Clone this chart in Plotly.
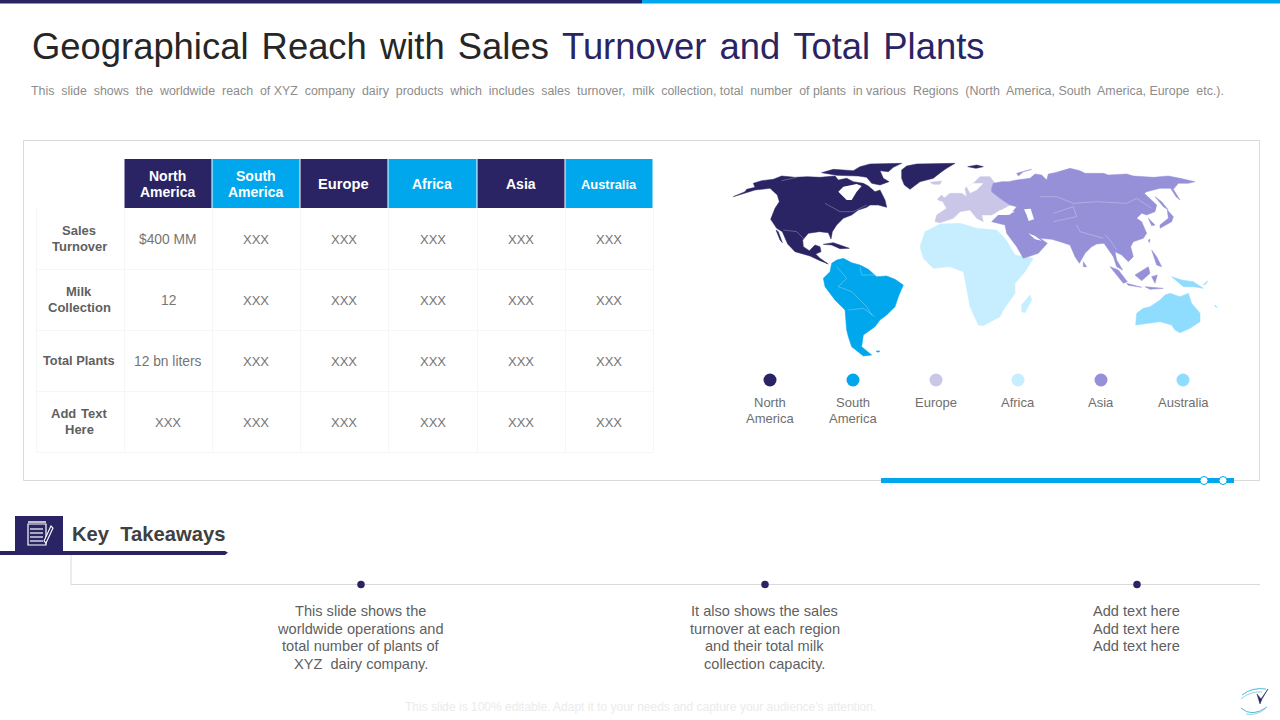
import plotly.graph_objects as go

NAVY = "#2A2464"
BLUE = "#00A7EC"
GREY = "#5F5F5F"
FONT = "Liberation Sans, Arial, sans-serif"
H = "\u200a"

# ---- table data
regions = ["North\nAmerica", "South\nAmerica", "Europe", "Africa", "Asia", "Australia"]
header_colors = [NAVY, BLUE, NAVY, BLUE, NAVY, BLUE]
header_sizes = [14, 14, 14.7, 14, 14, 12.9]
metrics = ["Sales\nTurnover", "Milk\nCollection", "Total Plants", f"Add {H}Text\nHere"]
col_edges = [36, 124, 212, 300, 388, 477, 565, 653]
row_edges = [208, 269, 330, 391, 452]
sales_row = ["$400 MM", "XXX", "XXX", "XXX", "XXX", "XXX"]
milk_row = ["12", "XXX", "XXX", "XXX", "XXX", "XXX"]
plants_row = ["12 bn liters", "XXX", "XXX", "XXX", "XXX", "XXX"]
text_row = ["XXX", "XXX", "XXX", "XXX", "XXX", "XXX"]

# ---- legend
legend_names = ["North\nAmerica", "South\nAmerica", "Europe", "Africa", "Asia", "Australia"]
legend_x = [770, 853, 936, 1018, 1101, 1183]
region_colors = [NAVY, BLUE, "#C9C6E8", "#C6EEFF", "#9590D8", "#8EDDFF"]

# ---- takeaways
takeaway_x = [361, 765, 1137]
takeaways = [
    "This slide shows the\nworldwide operations and\ntotal number of plants of\nXYZ  dairy company.",
    "It also shows the sales\nturnover at each region\nand their total milk\ncollection capacity.",
    "Add text here\nAdd text here\nAdd text here",
]

# ---- map outlines, in map units (3 units = 1 px, origin at map top left)
north_america = [[(40,140),(75,125),(80,118),(105,112),(100,100),(125,92),(160,88),(185,78),(225,82),(262,80),(300,82),(345,78),(355,90),(380,85),(400,95),(430,100),(445,108),(465,125),(480,120),(495,150),(500,172),(475,165),(450,165),(440,172),(415,180),(395,195),(370,205),(350,225),(337,245),(333,267),(325,248),(298,245),(265,250),(248,270),(250,290),(268,302),(285,285),(300,290),(303,305),(287,312),(300,325),(325,342),(300,332),(270,318),(225,305),(203,282),(187,245),(170,235),(160,220),(152,208),(165,175),(178,155),(172,135),(150,115),(105,120),(70,130)],
                 [(305,68),(340,58),(400,62),(420,50),(450,42),(545,40),(520,52),(505,65),(480,62),(490,85),(507,95),(480,105),(455,100),(440,82),(415,78),(350,76)],
                 [(545,60),(560,48),(590,42),(705,40),(680,55),(665,65),(640,85),(600,95),(570,118),(553,105),(545,85)],
                 [(310,283),(340,278),(388,295),(360,296),(335,285)],
                 [(743,50),(770,45),(790,50),(768,55)],
                 [(168,240),(175,245),(187,278),(180,270)]]
south_america = [[(335,340),(350,330),(370,325),(395,338),(420,345),(445,358),(470,380),(500,378),(525,388),(550,405),(535,440),(525,470),(500,495),(480,510),(465,530),(445,545),(430,555),(425,590),(455,615),(430,618),(395,590),(385,560),(380,540),(375,480),(345,450),(315,410),(310,385),(330,365)],
                 [(468,603),(480,603),(475,607)]]
europe = [[(645,215),(650,195),(680,175),(665,150),(690,130),(725,130),(740,140),(735,115),(760,100),(780,80),(810,80),(825,100),(815,125),(845,145),(870,165),(840,180),(815,195),(785,195),(790,215),(770,205),(750,180),(720,185),(700,205),(660,218)],
          [(652,148),(665,135),(678,150),(660,153)],
          [(630,97),(665,93),(660,103),(640,103)]]
africa = [[(600,290),(615,245),(660,222),(720,220),(770,235),(830,240),(855,265),(885,315),(940,325),(915,365),(885,400),(885,430),(850,480),(840,500),(790,527),(775,525),(750,470),(745,440),(735,390),(730,365),(690,350),(640,355),(610,325)],
          [(930,435),(935,450),(915,488),(905,485),(905,465)]]
asia = [[(815,115),(820,100),(845,95),(865,95),(890,90),(930,85),(945,72),(965,75),(980,90),(985,72),(1005,68),(1050,55),(1080,62),(1095,70),(1150,70),(1165,75),(1220,72),(1240,78),(1300,82),(1345,78),(1380,85),(1425,95),(1405,100),(1375,100),(1360,118),(1380,150),(1368,140),(1352,115),(1320,115),(1280,125),(1273,130),(1290,145),(1310,165),(1305,185),(1280,195),(1265,190),(1250,205),(1265,215),(1275,235),(1280,250),(1270,265),(1240,275),(1232,290),(1240,320),(1225,335),(1205,315),(1185,305),(1190,330),(1208,360),(1190,350),(1180,320),(1165,300),(1152,280),(1130,282),(1115,290),(1095,310),(1078,340),(1065,320),(1050,285),(1020,275),(995,268),(960,265),(982,280),(955,310),(910,325),(890,290),(860,250),(855,225),(815,215),(835,195),(870,195),(890,170),(870,165),(840,145),(815,125)],
        [(1305,140),(1325,155),(1345,180),(1330,170)],
        [(1320,235),(1355,215),(1360,200),(1342,180),(1345,205),(1320,225)],
        [(1285,205),(1305,225),(1295,227)],
        [(890,70),(935,58),(910,65),(895,78)],
        [(1090,335),(1100,350),(1090,350)],
        [(1170,350),(1195,360),(1222,395),(1210,400)],
        [(1220,400),(1265,412),(1225,406)],
        [(1245,375),(1285,350),(1290,370),(1265,392)],
        [(1295,380),(1312,375),(1305,400)],
        [(1295,300),(1310,320),(1325,350),(1310,345)],
        [(1285,270),(1290,268),(1288,278)],
        [(1275,410),(1330,415),(1290,418)]]
australia = [[(1247,525),(1250,490),(1270,475),(1290,470),(1320,450),(1335,435),(1350,430),(1380,440),(1405,430),(1415,460),(1440,490),(1440,515),(1410,535),(1380,548),(1365,540),(1355,525),(1320,515),(1280,520)],
             [(1355,380),(1385,390),(1420,395),(1450,415),(1420,410),(1390,410)],
             [(1485,465),(1492,472),(1486,470)],
             [(1450,405),(1463,392),(1458,402)]]
map_regions = [north_america, south_america, europe, africa, asia, australia]
# enclosed water, painted over the land
water = [[(355,125),(370,110),(410,102),(425,108),(410,125),(395,150),(380,150),(365,135)],
         [(912,178),(932,176),(942,208),(926,213),(920,195)],
         [(925,250),(945,258),(965,272),(945,268)],
         [(817,197),(840,180),(885,185),(860,195),(835,195)],
         [(740,110),(760,100),(790,100),(770,120),(750,130)]]
# faint border lines inside the continents
borders = [[(190,240),(230,245),(250,265)],[(315,160),(360,185),(400,185),(440,165)],[(185,92),(230,82)],
           [(350,350),(380,385),(355,410),(395,425),(440,470),(455,495)],[(385,480),(430,475),(465,500)],[(420,350),(425,375),(470,375)],
           [(960,140),(1010,140),(1060,160),(1130,155),(1220,160),(1250,145),(1295,175)],
           [(1000,190),(1060,170),(1070,200),(1000,215)],[(1070,225),(1080,245),(1150,265)],[(1155,255),(1170,270),(1190,300)]]

fig = go.Figure()

def rect(x0, y0, x1, y1, fill=None, line=None, lw=1):
    fig.add_shape(type="rect", x0=x0, y0=y0, x1=x1, y1=y1, xref="x", yref="y", layer="below",
                  fillcolor=fill or "rgba(0,0,0,0)", line=dict(color=line or "rgba(0,0,0,0)", width=lw if line else 0))

def seg(x0, y0, x1, y1, color, lw=1):
    fig.add_shape(type="line", x0=x0, y0=y0, x1=x1, y1=y1, xref="x", yref="y", layer="below",
                  line=dict(color=color, width=lw))

def text(x, y, s, size, color=GREY, bold=False, anchor="center", lh=16):
    lines = s.split("\n")
    top = y - lh * (len(lines) - 1) / 2
    for i, ln in enumerate(lines):
        fig.add_annotation(x=x, y=top + i * lh, xref="x", yref="y", text=f"<b>{ln}</b>" if bold else ln,
                           showarrow=False, xanchor=anchor, yanchor="middle", borderpad=0,
                           font=dict(family=FONT, size=size, color=color))

# top band
rect(0, 0, 642, 3.5, NAVY)
rect(642, 0, 1280, 3.5, BLUE)

# title and subtitle
text(31, 46.5, f'Geographical {H}Reach {H}with {H}Sales {H}<span style="color:{NAVY}">Turnover {H}and {H}Total {H}Plants</span>', 36.4, "#262626", anchor="left")
text(29.5, 90.5, "This  slide  shows  the  worldwide  reach  of XYZ  company  dairy  products  which  includes  sales  turnover,  milk  collection, total  number  of plants  in various  Regions  (North  America, South  America, Europe  etc.).", 12.42, "#8C8C8C", anchor="left")

# card
rect(23.5, 140.5, 1259.5, 480.5, "#FFFFFF", "#D9D9D9", 1)
rect(881, 478, 1234, 483, BLUE)

# table
for i, r in enumerate(regions):
    rect(col_edges[i + 1] + 0.5, 159, col_edges[i + 2] - 0.5, 208, header_colors[i])
    text((col_edges[i + 1] + col_edges[i + 2]) / 2 - 0.5, 184, r, header_sizes[i], "#FFFFFF", True)
for x in col_edges:
    seg(x + 0.5, 208, x + 0.5, 452, "#F6F6F6")
for y in row_edges[1:]:
    seg(36, y + 0.5, 653, y + 0.5, "#F6F6F6")
rows = [sales_row, milk_row, plants_row, text_row]
for j, m in enumerate(metrics):
    yc = (row_edges[j] + row_edges[j + 1]) / 2
    text(79, yc, m, 13 if j != 2 else 12.8, GREY, True)
    for i, v in enumerate(rows[j]):
        text((col_edges[i + 1] + col_edges[i + 2]) / 2, yc + 0.5, v, 13.8 if i == 0 and v != "XXX" else 13, "#757575")

# map
for polys, col in zip(map_regions, region_colors):
    xs, ys = [], []
    for p in polys:
        xs += [q[0] for q in p] + [p[0][0], None]
        ys += [q[1] for q in p] + [p[0][1], None]
    fig.add_trace(go.Scatter(x=xs, y=ys, xaxis="x2", yaxis="y2", mode="lines", fill="toself", fillcolor=col,
                             line=dict(color=col, width=0.5), hoverinfo="skip", showlegend=False))
for p in water:
    fig.add_trace(go.Scatter(x=[q[0] for q in p] + [p[0][0]], y=[q[1] for q in p] + [p[0][1]], xaxis="x2", yaxis="y2",
                             mode="lines", fill="toself", fillcolor="#FFFFFF", line=dict(color="#FFFFFF", width=0),
                             hoverinfo="skip", showlegend=False))
for b in borders:
    fig.add_trace(go.Scatter(x=[q[0] for q in b], y=[q[1] for q in b], xaxis="x2", yaxis="y2", mode="lines",
                             line=dict(color="rgba(255,255,255,0.45)", width=0.6), hoverinfo="skip", showlegend=False))

# legend
fig.add_trace(go.Scatter(x=legend_x, y=[380] * 6, mode="markers", marker=dict(size=13, color=region_colors),
                         hoverinfo="skip", showlegend=False))
for x, n in zip(legend_x, legend_names):
    text(x, 402.5 if "\n" not in n else 410.5, n, 13, "#6E6E6E")

# bar beads
fig.add_trace(go.Scatter(x=[1204, 1223], y=[480.5, 480.5], mode="markers",
                         marker=dict(size=8, color="#FFFFFF", line=dict(color=BLUE, width=1)), hoverinfo="skip", showlegend=False))

# key takeaways
rect(15, 516, 63, 552, NAVY)
fig.add_shape(type="path", path="M 0 551 L 225 551 L 228 552.5 L 225 555 L 0 555 Z", xref="x", yref="y", fillcolor=NAVY, line=dict(width=0))
text(71, 533.5, "Key  Takeaways", 20.2, "#404040", True, anchor="left")
# notepad icon
fig.add_shape(type="path", path="M 28 524 L 46 524 L 46 545 L 28 545 Z", xref="x", yref="y", line=dict(color="#FFFFFF", width=1.2))
for y in [529, 533, 537, 541]:
    seg(30, y, 43, y, "#FFFFFF", 1.2)
seg(28, 522, 46, 522, "#FFFFFF", 1.4)
fig.add_shape(type="path", path="M 44 541 L 51 526 L 53 528 L 46 543 Z", xref="x", yref="y", fillcolor=NAVY, line=dict(color="#FFFFFF", width=1.1))

seg(71, 555, 71, 584.5, "#DADADA")
seg(71, 584.5, 1260, 584.5, "#DADADA")
fig.add_trace(go.Scatter(x=takeaway_x, y=[584.5] * 3, mode="markers", marker=dict(size=7.5, color=NAVY),
                         hoverinfo="skip", showlegend=False))
for x, t in zip(takeaway_x, takeaways):
    n = t.count("\n") + 1
    text(x - 0.5, 611 + (n - 1) * 17.6 / 2, t, 14.6, GREY, lh=17.6)

# footer
text(640, 707, "This slide is 100% editable. Adapt it to your needs and capture your audience's attention.", 12, "#EBEBEB")

# logo
fig.add_shape(type="path", path="M 1242 695 Q 1252 687 1266 689", xref="x", yref="y", line=dict(color="#4FB9D8", width=1))
fig.add_shape(type="path", path="M 1241 699 Q 1250 691 1262 692", xref="x", yref="y", line=dict(color="#8FD5E8", width=1))
fig.add_shape(type="path", path="M 1241 708 Q 1252 718 1267 707", xref="x", yref="y", line=dict(color="#4FB9D8", width=1))
fig.add_shape(type="path", path="M 1246 714 Q 1256 716 1265 709", xref="x", yref="y", line=dict(color="#8FD5E8", width=1))
fig.add_shape(type="path", path="M 1257 694 L 1261 699 L 1268 689 L 1262 699 L 1260 704 Z", xref="x", yref="y", fillcolor=NAVY, line=dict(color=NAVY, width=0.5))

fig.update_layout(
    width=1280, height=720, margin=dict(l=0, r=0, t=0, b=0), paper_bgcolor="#FFFFFF", plot_bgcolor="#FFFFFF",
    showlegend=False,
    xaxis=dict(range=[0, 1280], visible=False, fixedrange=True),
    yaxis=dict(range=[720, 0], visible=False, fixedrange=True),
    xaxis2=dict(range=[0, 1500], domain=[720 / 1280, 1220 / 1280], visible=False, fixedrange=True, anchor="y2"),
    yaxis2=dict(range=[645, 0], domain=[1 - 365 / 720, 1 - 150 / 720], visible=False, fixedrange=True, anchor="x2"),
)
fig.write_html("out.html", config={"displayModeBar": False},
               post_script="document.body.style.margin='0';document.documentElement.style.overflow='hidden';")
